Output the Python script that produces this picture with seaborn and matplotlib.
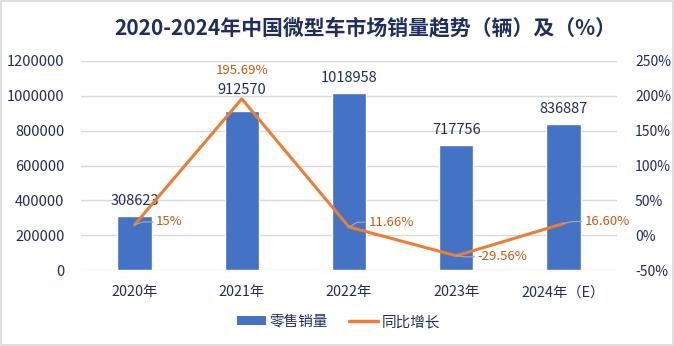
import matplotlib
matplotlib.use("Agg")
import matplotlib.pyplot as plt
import matplotlib.ticker as mticker
from matplotlib.patches import Patch
from matplotlib.lines import Line2D
import seaborn as sns
import pandas as pd

years = ["2020年", "2021年", "2022年", "2023年", "2024年（E）"]
sales = [308623, 912570, 1018958, 717756, 836887]
growth = [15.0, 195.69, 11.66, -29.56, 16.60]
growth_labels = ["15%", "195.69%", "11.66%", "-29.56%", "16.60%"]

sns.set_theme(style="white")
plt.rcParams["font.family"] = ["Noto Sans CJK SC", "DejaVu Sans"]
plt.rcParams["axes.unicode_minus"] = False

navy = "#1F2D5F"
bar_color = "#4472C4"
line_color = "#ED7D31"
label_orange = "#C55A11"
grid_color = "#D9D9D9"

df = pd.DataFrame({"year": years, "sales": sales, "growth": growth})

fig = plt.figure(figsize=(6.74, 3.46), dpi=100)
ax = fig.add_axes([81 / 674, 1 - 270 / 346, 536 / 674, 209 / 346])

sns.barplot(data=df, x="year", y="sales", color=bar_color, width=0.32,
            saturation=1, ax=ax, zorder=2)
ax.set_ylim(0, 1200000)
ax.set_yticks(range(0, 1200001, 200000))
ax.yaxis.set_major_formatter(mticker.FuncFormatter(lambda v, p: f"{int(v)}"))
ax.grid(axis="y", color=grid_color, linewidth=1, zorder=0)
ax.set_xlabel("")
ax.set_ylabel("")
for s in ax.spines.values():
    s.set_visible(False)
ax.tick_params(axis="both", length=0, labelcolor=navy)
ax.tick_params(axis="y", pad=12, labelsize=10.5)
ax.tick_params(axis="x", pad=11, labelsize=10.3)

# value labels above the bars (2021 sits a little higher to clear the line)
bar_offsets = [45000, 80000, 45000, 45000, 45000]
for i, v in enumerate(sales):
    ax.text(i, v + bar_offsets[i], f"{v}", ha="center", va="bottom",
            fontsize=10.5, color=navy, zorder=5)

ax2 = ax.twinx()
sns.lineplot(x=list(range(len(years))), y=growth, color=line_color,
             linewidth=2.2, ax=ax2, zorder=3)
ax2.set_ylim(-50, 250)
ax2.set_yticks(range(-50, 251, 50))
ax2.yaxis.set_major_formatter(mticker.FuncFormatter(lambda v, p: f"{int(v)}%"))
ax2.tick_params(axis="y", length=0, labelsize=10, labelcolor=navy, pad=13)
ax2.set_ylabel("")
for s in ax2.spines.values():
    s.set_visible(False)
ax2.grid(False)
ax.set_xlim(-0.5, len(years) - 0.5)

# growth labels with short grey leader lines
offsets = [(0.2, 4), (0, 32), (0.18, 7), (0.2, -1.5), (0.2, 3)]
for i, (g, lab) in enumerate(zip(growth, growth_labels)):
    dx, dy = offsets[i]
    if i == 1:
        ax2.text(i, g + dy, lab, ha="center", va="bottom", fontsize=9.5,
                 color=label_orange)
        continue
    tx, ty = i + dx, g + dy
    ax2.plot([i, i + 0.08, tx - 0.03], [g, ty, ty], color="#A6A6A6",
             linewidth=0.9, zorder=4)
    ax2.text(tx, ty, lab, ha="left", va="center", fontsize=9.5,
             color=label_orange)

fig.text(0.542, 1 - 28 / 346, "2020-2024年中国微型车市场销量趋势（辆）及（%）",
         ha="center", va="center", fontsize=15, fontweight="bold", color=navy)

handles = [Patch(facecolor=bar_color, edgecolor="none"),
           Line2D([0], [0], color=line_color, linewidth=2.5)]
fig.legend(handles, ["零售销量", "同比增长"], loc="center",
           bbox_to_anchor=(0.502, 1 - 322 / 346), ncol=2, frameon=False,
           fontsize=10.5, labelcolor=navy, handlelength=2.0,
           handleheight=0.6, columnspacing=1.4, handletextpad=0.25)

fig.patches.append(plt.Rectangle((0.002, 0.003), 0.996, 0.994,
                                 transform=fig.transFigure, fill=False,
                                 edgecolor="#D9D9D9", linewidth=1.2))

fig.savefig("out.png", dpi=100)
